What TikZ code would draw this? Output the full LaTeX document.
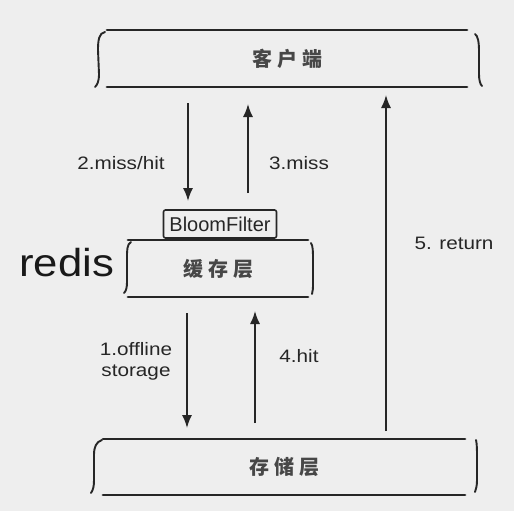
\documentclass[tikz,border=0pt]{standalone}
\usepackage{fontspec}
\setmainfont{Liberation Sans}
\newfontfamily\cjk{Noto Sans CJK SC}
\usetikzlibrary{arrows.meta}
\definecolor{bg}{RGB}{238,238,238}
\definecolor{ink}{RGB}{38,38,38}
\newcommand\hstretch[1]{\scalebox{1.15}[1]{#1}}
\tikzset{
  boxline/.style={line width=2.8pt, draw=ink, line cap=round},
  bracel/.style={line width=1.9pt, draw=ink, line cap=round},
  arr/.style={line width=1.6pt, draw=ink, -{Latex[length=13pt,width=10pt]}},
  lbl/.style={font=\fontsize{18}{22}\selectfont, text=ink, inner sep=0pt},
  zh/.style={font=\cjk\bfseries\fontsize{20}{22}\selectfont, text=ink!85, inner sep=0pt},
  area/.style={inner sep=0pt, outer sep=0pt, draw=none},
}
\begin{document}
\begin{tikzpicture}[x=1pt,y=-1pt]
\fill[bg] (0,0) rectangle (514,511);
\useasboundingbox (0,0) rectangle (514,511);

% top box: client
\node[area, minimum width=360pt, minimum height=57pt] (client) at (287,58.5) {};
\node[zh] (clienttxt) at (client.center) {客\hspace{5pt}户\hspace{5pt}端};
\draw[boxline] (client.north west) -- (client.north east);
\draw[boxline] (client.south west) -- (client.south east);
\draw[bracel] (105,32) .. controls (99,33) and (98,40) .. (98,50) -- (99,74) .. controls (99,82) and (97,85) .. (95,87);
\draw[bracel] (475,34) .. controls (478,36) and (479,42) .. (479,52) -- (479,74) .. controls (479,80) and (480,84) .. (482,86);

% cache box
\node[area, minimum width=180pt, minimum height=57pt] (cache) at (218,268.5) {};
\node[zh] (cachetxt) at (cache.center) {缓\hspace{5pt}存\hspace{5pt}层};
\draw[boxline] (cache.north west) -- (cache.north east);
\draw[boxline] (cache.south west) -- (cache.south east);
\draw[bracel] (131,242) .. controls (127,244) and (127,250) .. (127,258) -- (127,282) .. controls (127,288) and (126,291) .. (124,293);
\draw[bracel] (311,243) .. controls (313,246) and (313,252) .. (313,260) -- (313,282) .. controls (313,288) and (313,291) .. (312,294);

% bloom filter
\node[draw=ink, line width=1.6pt, rounded corners=2pt, minimum width=113pt, minimum height=28pt, inner sep=0pt,
      font=\fontsize{20}{22}\selectfont, text=ink] (bloom) at (220,224) {BloomFilter};

% redis
\node[anchor=base west, inner sep=0pt, font=\fontsize{39}{44}\selectfont, text=black!90] (redis) at (19,276) {\scalebox{1.12}[1]{redis}};

% storage box
\node[area, minimum width=362pt, minimum height=56pt] (store) at (284,467) {};
\node[zh] (storetxt) at (store.center) {存\hspace{5pt}储\hspace{5pt}层};
\draw[boxline] (store.north west) -- (store.north east);
\draw[boxline] (store.south west) -- (store.south east);
\draw[bracel] (102,440) .. controls (96,442) and (94,447) .. (94,455) -- (94,480) .. controls (94,487) and (93,490) .. (91,493);
\draw[bracel] (476,440) .. controls (477,444) and (477,450) .. (477,458) -- (477,480) .. controls (477,486) and (476,489) .. (475,492);

% arrows
\coordinate (a2s) at (188,103);
\coordinate (a2e) at (188,201);
\coordinate (a3s) at (248,193);
\coordinate (a3e) at (248,104);
\coordinate (a5s) at (386,431);
\coordinate (a5e) at (386,95);
\coordinate (a1s) at (187,313);
\coordinate (a1e) at (187,428);
\coordinate (a4s) at (255,423);
\coordinate (a4e) at (255,311);
\draw[arr] (a2s) -- (a2e);
\draw[arr] (a3s) -- (a3e);
\draw[arr] (a5s) -- (a5e);
\draw[arr] (a1s) -- (a1e);
\draw[arr] (a4s) -- (a4e);

% labels
\node[lbl] (l2) at (121,163) {\hstretch{2.miss/hit}};
\node[lbl] (l3) at (299,163) {\hstretch{3.miss}};
\node[lbl] (l5) at (454,243) {\hstretch{5. return}};
\node[lbl, align=center] (l1) at (136,361) {\hstretch{1.offline}\\[-1pt]\hstretch{storage}};
\node[lbl] (l4) at (299,356) {\hstretch{4.hit}};
\end{tikzpicture}
\end{document}
